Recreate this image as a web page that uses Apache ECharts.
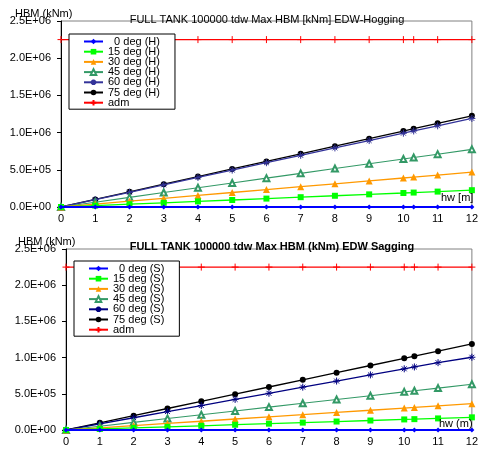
<!DOCTYPE html>
<html><head><meta charset="utf-8">
<script src="https://cdn.jsdelivr.net/npm/echarts@6/dist/echarts.min.js"></script>
<style>html,body{margin:0;padding:0;background:#fff}#c{width:481px;height:450px}</style>
</head><body><div id="c"></div>
<script>
var hw = [0, 1, 2, 3, 4, 5, 6, 7, 8, 9, 10, 10.3, 11, 12];
var yTicks = [0, 500000, 1000000, 1500000, 2000000, 2500000];
var admValue = 2250000;

// Hogging
var hog0  = [0, 0, 0, 0, 0, 0, 0, 0, 0, 0, 0, 0, 0, 0];
var hog15 = [0, 18800, 37700, 56500, 75300, 94200, 113000, 132000, 151000, 170000, 188000, 194000, 207000, 226000];
var hog30 = [0, 39000, 78000, 117000, 156000, 195000, 234000, 273000, 312000, 351000, 390000, 402000, 429000, 469000];
var hog45 = [0, 64600, 129000, 194000, 258000, 323000, 388000, 452000, 517000, 581000, 646000, 665000, 710000, 775000];
var hog60 = [0, 99000, 198000, 298000, 397000, 496000, 595000, 694000, 794000, 893000, 992000, 1022000, 1091000, 1190000];
var hog75 = [0, 102000, 204000, 306000, 409000, 511000, 613000, 715000, 817000, 919000, 1021000, 1052000, 1124000, 1226000];
// Sagging
var sag0  = [0, 0, 0, 0, 0, 0, 0, 0, 0, 0, 0, 0, 0, 0];
var sag15 = [0, 14600, 29200, 43800, 58300, 72900, 87500, 102000, 117000, 131000, 146000, 150000, 160000, 175000];
var sag30 = [0, 30300, 60700, 91000, 121000, 152000, 182000, 212000, 243000, 273000, 303000, 312000, 334000, 364000];
var sag45 = [0, 52700, 105000, 158000, 211000, 263000, 316000, 369000, 421000, 474000, 527000, 543000, 579000, 632000];
var sag60 = [0, 84500, 169000, 254000, 338000, 423000, 507000, 592000, 676000, 761000, 845000, 871000, 930000, 1005000];
var sag75 = [0, 99000, 198000, 297000, 396000, 495000, 594000, 693000, 792000, 891000, 990000, 1020000, 1089000, 1188000];
var adm = [admValue, admValue, admValue, admValue, admValue, admValue, admValue, admValue, admValue, admValue, admValue, admValue, admValue, admValue];

var hogNames = ['  0 deg (H)', '15 deg (H)', '30 deg (H)', '45 deg (H)', '60 deg (H)', '75 deg (H)', 'adm'];
var sagNames = ['  0 deg (S)', '15 deg (S)', '30 deg (S)', '45 deg (S)', '60 deg (S)', '75 deg (S)', 'adm'];
var titleHog = 'FULL TANK 100000 tdw Max HBM [kNm] EDW-Hogging';
var titleSag = 'FULL TANK 100000 tdw Max HBM (kNm) EDW Sagging';

var FONT = '"Liberation Sans", Arial, sans-serif';
var STAR = 'path://M0,5L10,5M5,0L5,10M1.5,1.5L8.5,8.5M8.5,1.5L1.5,8.5';
var PLUS = 'path://M0,5L10,5M5,0L5,10';

function sci(v) {
  if (v === 0) return '0.0E+00';
  var e = Math.floor(Math.log10(v));
  var m = v / Math.pow(10, e);
  return m.toFixed(1) + 'E+' + (e < 10 ? '0' + e : e);
}
function pairs(ys) { return hw.map(function (x, i) { return [x, ys[i]]; }); }

var styles = [
  {color: '#0000ff', symbol: 'diamond', size: 5, width: 2.2},
  {color: '#00ff00', symbol: 'rect', size: 6, width: 1.3},
  {color: '#ff9900', symbol: 'triangle', size: 7, width: 1.3},
  {color: '#339966', symbol: 'emptyTriangle', size: 6, width: 1.1},
  {color: '#333399', symbol: STAR, size: 7, width: 1.3, stroke: true},
  {color: '#000000', symbol: 'circle', size: 6, width: 1.3},
  {color: '#ff0000', symbol: PLUS, size: 7, width: 1.3, stroke: true}
];

function mkSeries(names, arrays, gi, navy) {
  return names.map(function (n, k) {
    var s = styles[k];
    var col = (k === 4 && navy) ? '#000080' : s.color;
    var it = {color: col};
    if (s.stroke) { it.borderColor = col; it.borderWidth = 1; }
    return {
      type: 'line', name: n, xAxisIndex: gi, yAxisIndex: gi,
      data: pairs(arrays[k]), symbol: s.symbol, symbolSize: s.size, showSymbol: true,
      lineStyle: {color: col, width: s.width}, itemStyle: it,
      emphasis: {disabled: true}, animation: false, z: 10 - k
    };
  });
}

function xAx(gi) {
  return {gridIndex: gi, type: 'value', min: 0, max: 12, interval: 1,
    axisLine: {show: true, lineStyle: {color: '#000', width: 1}},
    axisTick: {show: false}, splitLine: {show: false},
    axisLabel: {fontFamily: FONT, fontSize: 11, color: '#000', margin: 6}};
}
function yAx(gi) {
  return {gridIndex: gi, type: 'value', min: yTicks[0], max: yTicks[yTicks.length - 1], interval: 500000,
    axisLine: {show: true, lineStyle: {color: '#000', width: 1}},
    axisTick: {show: true, inside: false, length: 4, lineStyle: {color: '#000'}},
    splitLine: {show: false},
    axisLabel: {fontFamily: FONT, fontSize: 11, color: '#000', margin: 10, formatter: sci}};
}
function leg(names, left, top) {
  return {data: names, orient: 'vertical', left: left, top: top,
    backgroundColor: '#fff', borderColor: '#000', borderWidth: 1,
    padding: [2, 15, 1, 14], itemGap: -0.8, itemWidth: 19, itemHeight: 7,
    textStyle: {fontFamily: FONT, fontSize: 11, color: '#000', lineHeight: 10},
    selectedMode: false, z: 20};
}

var chart = echarts.init(document.getElementById('c'), null, {renderer: 'canvas'});
chart.setOption({
  backgroundColor: '#fff',
  animation: false,
  grid: [
    {left: 61, right: 6, top: 21, bottom: 243, show: true, borderColor: '#808080', borderWidth: 1, backgroundColor: 'transparent'},
    {left: 66, right: 7, top: 249, bottom: 20, show: true, borderColor: '#808080', borderWidth: 1, backgroundColor: 'transparent'}
  ],
  title: [
    {text: titleHog, left: 262, top: 9, textAlign: 'center', textStyle: {fontFamily: FONT, fontSize: 11, fontWeight: 'normal', color: '#000'}},
    {text: titleSag, left: 267, top: 236, textAlign: 'center', textStyle: {fontFamily: FONT, fontSize: 11, fontWeight: 'bold', color: '#000'}}
  ],
  legend: [leg(hogNames, 69, 34), leg(sagNames, 74, 261)],
  xAxis: [xAx(0), xAx(1)],
  yAxis: [yAx(0), yAx(1)],
  graphic: [
    {type: 'text', left: 15, top: 8, z: 30, style: {text: 'HBM (kNm)', font: '11px ' + FONT, fill: '#000'}},
    {type: 'text', left: 18, top: 236, z: 30, style: {text: 'HBM (kNm)', font: '11px ' + FONT, fill: '#000'}},
    {type: 'text', left: 441, top: 192, z: 30, style: {text: 'hw [m]', font: '11px ' + FONT, fill: '#000'}},
    {type: 'text', left: 439, top: 418, z: 30, style: {text: 'hw (m)', font: '11px ' + FONT, fill: '#000'}}
  ],
  series: mkSeries(hogNames, [hog0, hog15, hog30, hog45, hog60, hog75, adm], 0, false)
    .concat(mkSeries(sagNames, [sag0, sag15, sag30, sag45, sag60, sag75, adm], 1, true))
});
</script></body></html>
